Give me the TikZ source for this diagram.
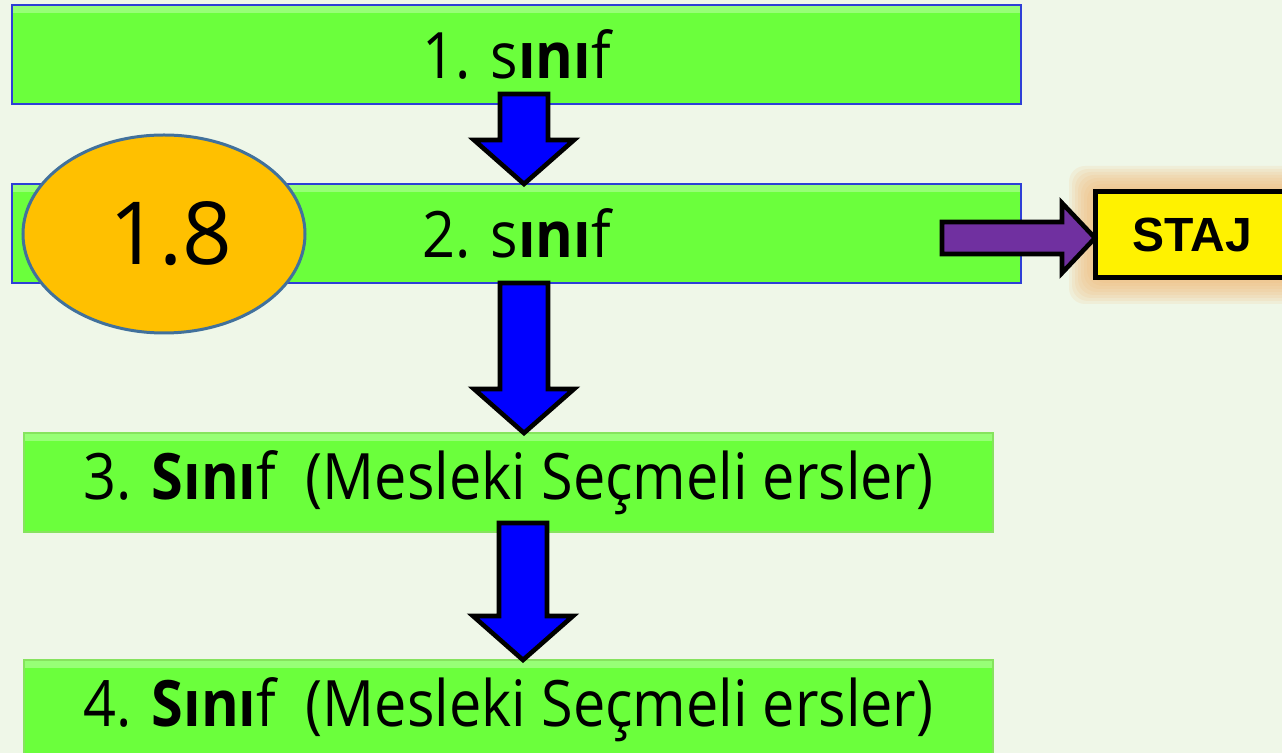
\documentclass[tikz,border=0pt]{standalone}
\usepackage{fontspec}
\setmainfont{Open Sans}
\newfontfamily\boxfont[FakeStretch=0.9]{Open Sans}
\newfontfamily\stajfont{Liberation Sans}
\usetikzlibrary{calc,shapes.geometric}
\definecolor{bgc}{HTML}{EFF7E8}
\definecolor{boxgreen}{HTML}{6BFF3C}
\definecolor{boxblue}{HTML}{2E3FD6}
\definecolor{boxedge}{HTML}{86E35E}
\definecolor{arrowblue}{HTML}{0000FF}
\definecolor{arrowpurple}{HTML}{7030A0}
\definecolor{ovalfill}{HTML}{FFC000}
\definecolor{ovaledge}{HTML}{41719C}
\definecolor{glowc}{HTML}{F2B46A}
% block arrows: #1 = tail, #2 = tip
\newcommand{\blockdown}[2]{%
\draw[blockarrow,fill=arrowblue] let \p1=(#1), \p2=(#2) in
 (\x1-12pt,\y1) -- (\x1-12pt,\y2+22pt) -- (\x1-25pt,\y2+22pt) -- (\x1,\y2)
 -- (\x1+25pt,\y2+22pt) -- (\x1+12pt,\y2+22pt) -- (\x1+12pt,\y1) -- cycle;}
\newcommand{\blockright}[2]{%
\draw[blockarrow,fill=arrowpurple] let \p1=(#1), \p2=(#2) in
 (\x1,\y1+8pt) -- (\x2-16.5pt,\y1+8pt) -- (\x2-16.5pt,\y1+17.5pt) -- (\x2,\y1)
 -- (\x2-16.5pt,\y1-17.5pt) -- (\x2-16.5pt,\y1-8pt) -- (\x1,\y1-8pt) -- cycle;}
\begin{document}
\begin{tikzpicture}[x=0.5pt,y=-0.5pt,inner sep=0pt,outer sep=0pt,
greenbox/.style={draw,rectangle,fill=boxgreen,minimum height=49.5pt,
  font=\boxfont\fontsize{32}{36}\selectfont,
  path picture={\fill[white,opacity=0.3] (path picture bounding box.north west)
  rectangle ([yshift=-4pt]path picture bounding box.north east);}},
blockarrow/.style={draw=black,line width=2.3pt,line join=miter}]
\useasboundingbox (0,0) rectangle (1282,753);
\fill[bgc] (0,0) rectangle (1282,753);
\clip (0,0) rectangle (1282,753);
% glow behind STAJ
\foreach \g in {26,23,...,2}
  \fill[glowc,opacity=0.12,rounded corners=8pt] (1095-\g,192-\g) rectangle (1290+\g,278+\g);
\draw (516.5,54.5) node[greenbox,draw=boxblue,line width=1pt,minimum width=504.5pt] (s1) {1. s\textbf{ını}f};
\draw (516.5,233.5) node[greenbox,draw=boxblue,line width=1pt,minimum width=504.5pt] (s2) {2. s\textbf{ını}f};
\draw (508.5,482.5) node[greenbox,draw=boxedge,line width=1pt,minimum width=484.5pt] (s3) {3. \textbf{Sını}f\ \ (Mesleki Seçmeli ersler)};
\draw (508.5,709.5) node[greenbox,draw=boxedge,line width=1pt,minimum width=484.5pt] (s4) {4. \textbf{Sını}f\ \ (Mesleki Seçmeli ersler)};
\draw (1192.5,235) node[draw=black,fill=yellow,line width=2.5pt,minimum width=97.5pt,minimum height=43pt,
  font=\stajfont\bfseries\fontsize{24}{28}\selectfont] (staj) {STAJ};
\draw (164,234) node[ellipse,draw=ovaledge,fill=ovalfill,line width=1.5pt,minimum width=141pt,minimum height=99pt,
  font=\fontsize{43.5}{50}\selectfont] (avg) {\raisebox{-3.5pt}{\kern7pt 1.8}};
\coordinate (a1) at (524,94);
\coordinate (a3) at (523,523);
\coordinate (a4) at (942,238);
\blockdown{a1}{a1 |- s2.north}
\blockdown{a1 |- s2.south}{a1 |- s3.north}
\blockdown{a3}{a3 |- s4.north}
\blockright{a4}{staj.west}
\end{tikzpicture}
\end{document}
